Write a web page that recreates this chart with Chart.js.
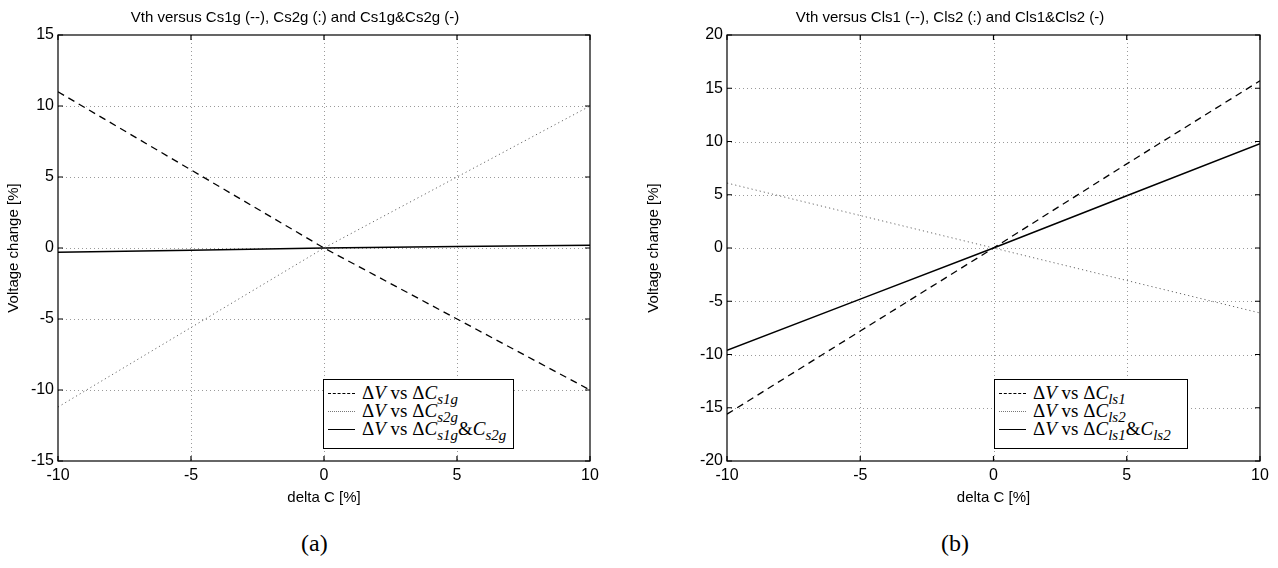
<!DOCTYPE html>
<html>
<head>
<meta charset="utf-8">
<script src="https://cdn.jsdelivr.net/npm/chart.js"></script>
<style>
  body { margin: 0; background: #fff; }
  #wrap { position: relative; width: 1278px; height: 568px; overflow: hidden; }
  #left, #right { position: absolute; top: 0; }
  #left { left: 0; }
  #right { left: 640px; }
  .legend { position: absolute; border: 1px solid #000; background: #fff;
            font-family: "Liberation Serif", "DejaVu Serif", serif; font-size: 19px; line-height: 17px;
            padding: 4px 6px 3px 4px; box-sizing: border-box; }
  .legend .row { white-space: nowrap; height: 18px; }
  .legend .sample { display: inline-block; width: 27px; margin-right: 7px; vertical-align: 5px; }
  .legend i { font-style: italic; }
  .legend sub { font-size: 15px; font-style: italic; vertical-align: -5px; line-height: 0; }
  .caption { position: absolute; top: 530px; font-family: "Liberation Serif", serif; font-size: 24px; }
</style>
</head>
<body>
<div id="wrap">
  <canvas id="left" width="640" height="520"></canvas>
  <canvas id="right" width="638" height="520"></canvas>

  <div class="legend" style="left:323px; top:379px; width:191px; height:70px;">
    <div class="row"><span class="sample" style="border-top:1.5px dashed #000;"></span>Δ<i>V</i> vs Δ<i>C</i><sub>s1g</sub></div>
    <div class="row"><span class="sample" style="border-top:1px dotted #777;"></span>Δ<i>V</i> vs Δ<i>C</i><sub>s2g</sub></div>
    <div class="row"><span class="sample" style="border-top:1.5px solid #000;"></span>Δ<i>V</i> vs Δ<i>C</i><sub>s1g</sub>&amp;<i>C</i><sub>s2g</sub></div>
  </div>
  <div class="legend" style="left:994px; top:379px; width:194px; height:70px;">
    <div class="row"><span class="sample" style="border-top:1.5px dashed #000;"></span>Δ<i>V</i> vs Δ<i>C</i><sub>ls1</sub></div>
    <div class="row"><span class="sample" style="border-top:1px dotted #777;"></span>Δ<i>V</i> vs Δ<i>C</i><sub>ls2</sub></div>
    <div class="row"><span class="sample" style="border-top:1.5px solid #000;"></span>Δ<i>V</i> vs Δ<i>C</i><sub>ls1</sub>&amp;<i>C</i><sub>ls2</sub></div>
  </div>

  <div class="caption" style="left:301px;">(a)</div>
  <div class="caption" style="left:941px;">(b)</div>
</div>

<script>
// delta C [%]
const deltaC = [-10, -5, 0, 5, 10];

// (a) gate capacitances
const dvCs1g = [11, 5.5, 0, -5, -10];
const dvCs2g = [-11.2, -5.6, 0, 5, 10];
const dvCs1gCs2g = [-0.3, -0.15, 0, 0.1, 0.2];

// (b) leakage / ls capacitances
const dvCls1 = [-15.6, -7.8, 0, 7.9, 15.7];
const dvCls2 = [6.1, 3.05, 0, -3.05, -6.1];
const dvCls1Cls2 = [-9.6, -4.8, 0, 4.9, 9.8];

const xTicks = [-10, -5, 0, 5, 10];
const yTicksA = [-15, -10, -5, 0, 5, 10, 15];
const yTicksB = [-20, -15, -10, -5, 0, 5, 10, 15, 20];

const FONT = "'Liberation Sans', Arial, sans-serif";

// matlab style box: dotted grid, inner ticks on all four sides
const boxPlugin = {
    id: "matlabBox",
    beforeDatasetsDraw(chart) {
        const { ctx, chartArea: a, scales } = chart;
        const xs = scales.x, ys = scales.y;
        ctx.save();
        ctx.strokeStyle = "#9a9a9a";
        ctx.lineWidth = 1;
        ctx.setLineDash([1, 3]);
        xs.ticks.forEach(t => {
            const px = Math.round(xs.getPixelForValue(t.value)) + 0.5;
            if (px <= a.left + 1 || px >= a.right - 1) return;
            ctx.beginPath(); ctx.moveTo(px, a.top); ctx.lineTo(px, a.bottom); ctx.stroke();
        });
        ys.ticks.forEach(t => {
            const py = Math.round(ys.getPixelForValue(t.value)) + 0.5;
            if (py <= a.top + 1 || py >= a.bottom - 1) return;
            ctx.beginPath(); ctx.moveTo(a.left, py); ctx.lineTo(a.right, py); ctx.stroke();
        });
        ctx.restore();
    },
    afterDatasetsDraw(chart) {
        const { ctx, chartArea: a, scales } = chart;
        const xs = scales.x, ys = scales.y;
        const tl = 5;
        ctx.save();
        ctx.strokeStyle = "#000";
        ctx.lineWidth = 1.2;
        ctx.setLineDash([]);
        ctx.strokeRect(a.left, a.top, a.right - a.left, a.bottom - a.top);
        ctx.beginPath();
        xs.ticks.forEach(t => {
            const px = xs.getPixelForValue(t.value);
            ctx.moveTo(px, a.bottom); ctx.lineTo(px, a.bottom - tl);
            ctx.moveTo(px, a.top); ctx.lineTo(px, a.top + tl);
        });
        ys.ticks.forEach(t => {
            const py = ys.getPixelForValue(t.value);
            ctx.moveTo(a.left, py); ctx.lineTo(a.left + tl, py);
            ctx.moveTo(a.right, py); ctx.lineTo(a.right - tl, py);
        });
        ctx.stroke();
        ctx.restore();
    }
};

function lineSet(data, dash, color, width) {
    return {
        data: deltaC.map((x, i) => ({ x: x, y: data[i] })),
        borderColor: color,
        borderWidth: width,
        borderDash: dash,
        pointRadius: 0,
        fill: false,
        tension: 0
    };
}

function makeChart(id, title, sets, yTicks, yMin, yMax, yAxisWidth, rightPad) {
    const ctx = document.getElementById(id).getContext("2d");
    return new Chart(ctx, {
        type: "line",
        data: { datasets: sets },
        plugins: [boxPlugin],
        options: {
            responsive: false,
            animation: false,
            layout: { padding: { left: 0, right: rightPad, top: 0, bottom: 0 } },
            plugins: {
                legend: { display: false },
                tooltip: { enabled: false },
                title: {
                    display: true,
                    text: title,
                    color: "#000",
                    font: { family: FONT, size: 15, weight: "normal" },
                    padding: { top: 9, bottom: 8 }
                }
            },
            scales: {
                x: {
                    type: "linear",
                    min: -10, max: 10,
                    afterBuildTicks: s => { s.ticks = xTicks.map(v => ({ value: v })); },
                    afterFit: s => { s.height = 59; },
                    grid: { display: false, drawTicks: false },
                    border: { display: false },
                    ticks: { color: "#000", font: { family: FONT, size: 16 }, padding: 5, maxRotation: 0 },
                    title: {
                        display: true, text: "delta C [%]", color: "#000",
                        font: { family: FONT, size: 15 }, padding: { top: 0, bottom: 13 }
                    }
                },
                y: {
                    type: "linear",
                    min: yMin, max: yMax,
                    afterBuildTicks: s => { s.ticks = yTicks.map(v => ({ value: v })); },
                    afterFit: s => { s.width = yAxisWidth; },
                    grid: { display: false, drawTicks: false },
                    border: { display: false },
                    ticks: { color: "#000", font: { family: FONT, size: 16 }, padding: 4 },
                    title: {
                        display: true, text: "Voltage change [%]", color: "#000",
                        font: { family: FONT, size: 15 }, padding: { top: 5, bottom: 5 }
                    }
                }
            }
        }
    });
}

makeChart("left", "Vth versus Cs1g (--), Cs2g (:) and Cs1g&Cs2g (-)", [
    lineSet(dvCs1g, [7, 5], "#000", 1.3),
    lineSet(dvCs2g, [1.2, 3], "#666", 1),
    lineSet(dvCs1gCs2g, [], "#000", 1.5)
], yTicksA, -15, 15, 58, 50);

makeChart("right", "Vth versus Cls1 (--), Cls2 (:) and Cls1&Cls2 (-)", [
    lineSet(dvCls1, [7, 5], "#000", 1.3),
    lineSet(dvCls2, [1.2, 3], "#666", 1),
    lineSet(dvCls1Cls2, [], "#000", 1.5)
], yTicksB, -20, 20, 87, 18);
</script>
</body>
</html>
